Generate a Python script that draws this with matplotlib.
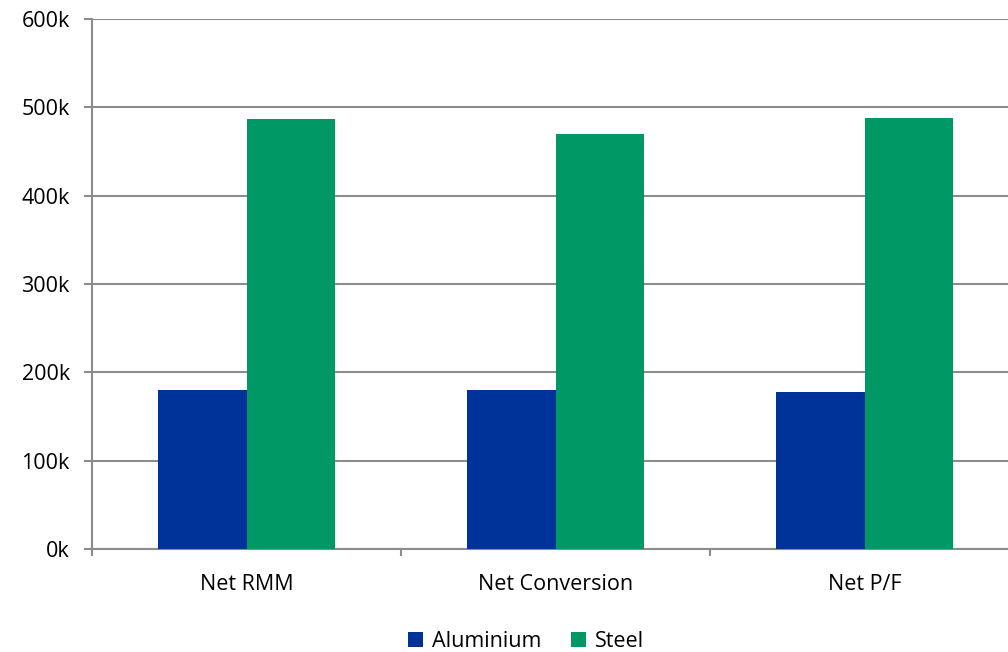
import numpy as np
import matplotlib.pyplot as plt

plt.rcParams['font.family'] = ['Open Sans', 'DejaVu Sans']

categories = ['Net RMM', 'Net Conversion', 'Net P/F']
aluminium = [180000, 180000, 178000]
steel = [487000, 470000, 488000]
ticks = [0, 100000, 200000, 300000, 400000, 500000, 600000]
tick_labels = ['0k', '100k', '200k', '300k', '400k', '500k', '600k']

fig = plt.figure(figsize=(10.08, 6.52), dpi=100)
ax = fig.add_axes([92/1008, (652-549)/652, 916/1008, 530/652])

x = np.arange(len(categories))
w = 0.285
grid_col = '#8c8c8c'
ax.bar(x - w/2, aluminium, w, color='#003399', label='Aluminium', zorder=3)
ax.bar(x + w/2, steel, w, color='#009966', label='Steel', zorder=3)

fs = 15.5
ax.set_xlim(-0.5, 2.5 - 11/309)
ax.set_ylim(0, 600000)
ax.set_yticks(ticks)
ax.set_yticklabels(tick_labels, fontsize=fs)
ax.set_xticks(x)
ax.set_xticklabels(categories, fontsize=fs)
ax.tick_params(axis='x', length=0, pad=18)
ax.tick_params(axis='y', length=6, color=grid_col, width=1.5, pad=10)
# category separators on x axis
for b in [-0.5, 0.5, 1.5]:
    ax.plot([b, b], [0, -0.012], transform=ax.get_xaxis_transform(),
            color=grid_col, lw=1.5, clip_on=False)
ax.yaxis.grid(True, color=grid_col, lw=1.5, zorder=0)
for s in ['top', 'right']:
    ax.spines[s].set_visible(False)
for s in ['left', 'bottom']:
    ax.spines[s].set_color(grid_col)
    ax.spines[s].set_linewidth(1.5)

fig.legend(loc='lower center', bbox_to_anchor=(0.522, -0.03), ncol=2, frameon=False,
           fontsize=fs, handlelength=0.7, handleheight=0.7, handletextpad=0.4,
           columnspacing=1.4)

fig.savefig('out.png', dpi=100)
